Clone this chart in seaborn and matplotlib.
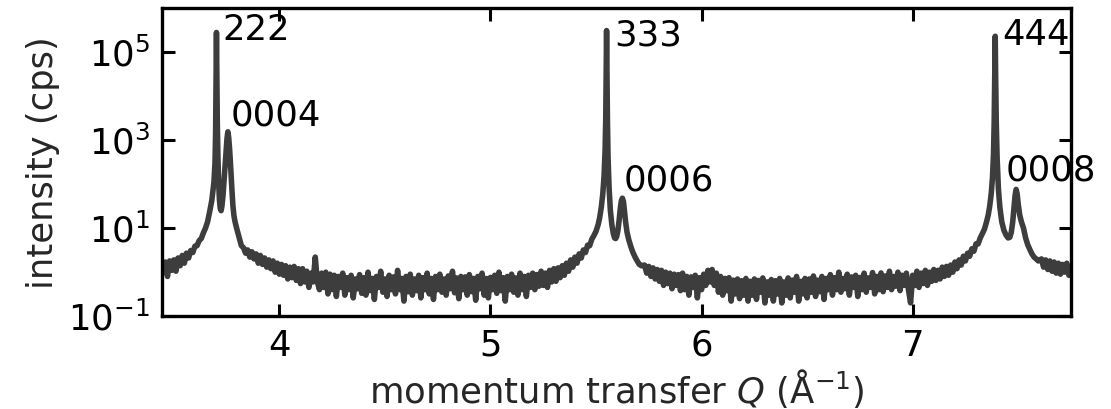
import numpy as np
import pandas as pd
import matplotlib
matplotlib.use("Agg")
import matplotlib.pyplot as plt
import matplotlib.ticker as mticker
import seaborn as sns

# ---------------- data ----------------
# background scan segments: start Q, step 0.01 1/Å, intensities in cps
SCAN_STEP = 0.01

bg_a_start = 3.45
bg_a_cps = [1.0, 1.7, 0.8, 1.8, 1.1, 1.9, 1.05, 2.1, 1.4, 2.4, 1.6, 2.7, 2.1, 3.1,
            2.8, 3.9, 4.0, 5.2, 5.8, 7.8, 10, 14]

bg_b_start = 3.83
bg_b_cps = [3.6, 2.7, 3.2, 2.2, 2.9, 2.0, 2.6, 1.6, 2.4, 1.5,
            2.1, 1.3, 1.9, 1.2, 1.8, 1.0, 1.6, 0.9, 1.5, 0.85,
            1.4, 0.7, 1.3, 0.75, 1.35, 0.65, 1.2, 0.55, 1.2, 0.6,
            1.05, 0.45, 0.95, 0.6, 2.2, 0.6, 0.4, 0.95, 0.45, 1.0,
            0.32, 0.9, 0.4, 0.85, 0.28, 0.8, 0.45, 0.95, 0.3, 0.75,
            0.4, 0.85, 0.26, 0.7, 0.42, 0.88, 0.33, 0.75, 0.3, 1.0,
            0.38, 0.72, 0.24, 0.8, 0.45, 1.05, 0.35, 0.7, 0.28, 0.85,
            0.4, 0.78, 0.32, 1.1, 0.4, 0.72, 0.22, 0.8, 0.36, 0.9,
            0.3, 0.7, 0.38, 0.85, 0.26, 0.75, 0.4, 0.95, 0.32, 0.72,
            0.24, 0.8, 0.4, 0.9, 0.35, 0.7, 0.3, 0.82, 0.42, 1.05,
            0.34, 0.74, 0.25, 0.8, 0.4, 0.78, 0.3, 0.88, 0.36, 0.72,
            0.23, 0.8, 0.42, 0.95, 0.3, 0.72, 0.26, 0.76, 0.4, 0.85,
            0.33, 1.0, 0.38, 0.75, 0.22, 0.8, 0.4, 0.9, 0.35, 0.74,
            0.3, 0.95, 0.4, 0.8, 0.28, 0.85, 0.45, 0.95, 0.4, 0.88,
            0.48, 1.05, 0.5, 0.95, 0.45, 1.1, 0.6, 1.2, 0.62, 1.25,
            0.75, 1.4, 0.85, 1.6, 1.05, 1.9, 1.3, 2.2, 1.6, 2.6,
            2.1, 3.2, 2.8, 4.1, 4.0, 5.6, 6.8]

bg_c_start = 5.73
bg_c_cps = [1.45, 0.95, 1.35, 0.8, 1.25, 0.7, 1.15, 0.62, 1.1, 0.5,
            1.0, 0.55, 0.95, 0.42, 0.9, 0.5, 0.88, 0.38, 0.95, 0.4,
            0.8, 0.3, 0.78, 0.45, 0.85, 0.26, 0.75, 0.4, 0.9, 0.5,
            1.1, 0.6, 1.15, 0.5, 0.95, 0.35, 0.8, 0.3, 0.72, 0.38,
            0.75, 0.22, 0.66, 0.32, 0.7, 0.25, 0.64, 0.3, 0.72, 0.22,
            0.62, 0.3, 0.7, 0.24, 0.65, 0.35, 0.74, 0.2, 0.6, 0.3,
            0.68, 0.22, 0.64, 0.32, 0.72, 0.2, 0.6, 0.3, 0.74, 0.26,
            0.66, 0.35, 0.8, 0.22, 0.62, 0.32, 0.72, 0.26, 0.7, 0.35,
            0.82, 0.28, 0.66, 0.36, 0.8, 0.24, 0.72, 0.4, 0.88, 0.3,
            0.75, 0.4, 1.0, 0.35, 0.72, 0.42, 0.9, 0.3, 0.78, 0.45,
            0.85, 0.28, 0.76, 0.4, 0.95, 0.35, 0.74, 0.45, 0.98, 0.32,
            0.8, 0.4, 0.96, 0.36, 0.82, 0.45, 1.05, 0.4, 0.8, 0.48,
            1.0, 0.38, 0.85, 0.5, 0.95, 0.4, 0.2, 0.85, 0.5, 1.05,
            0.45, 0.95, 0.55, 1.1, 0.5, 1.0, 0.62, 1.15, 0.65, 1.1,
            0.7, 1.3, 0.8, 1.35, 0.85, 1.45, 1.0, 1.7, 1.2, 1.9,
            1.45, 2.3, 1.8, 2.7, 2.3, 3.4, 3.0, 4.4, 4.4, 6.0,
            7.5]

bg_d_start = 7.61
bg_d_cps = [2.0, 1.3, 1.9, 1.15, 1.8, 1.05, 1.7, 0.95, 1.6, 0.9, 1.5, 1.0, 1.6, 0.85, 1.35]

# finely sampled peak regions
peak_a_q = [3.67, 3.68, 3.69, 3.695, 3.698, 3.700, 3.702, 3.704, 3.706, 3.709, 3.712,
            3.716, 3.720, 3.724, 3.728, 3.733, 3.738, 3.743, 3.748, 3.752, 3.756,
            3.760, 3.764, 3.768, 3.772, 3.776, 3.780, 3.785, 3.79, 3.80, 3.81, 3.82]
peak_a_cps = [24, 43, 110, 300, 1500, 25000, 280000, 25000, 2500, 400, 120,
              45, 28, 25, 32, 55, 120, 260, 600, 1100, 1550,
              1150, 650, 320, 140, 65, 32, 19, 14, 9, 6.0, 4.0]

peak_b_q = [5.50, 5.51, 5.517, 5.525, 5.532, 5.538, 5.543, 5.546, 5.548, 5.550, 5.552,
            5.554, 5.557, 5.562, 5.568, 5.575, 5.582, 5.588, 5.593, 5.598, 5.604,
            5.610, 5.615, 5.620, 5.625, 5.630, 5.635, 5.640, 5.647, 5.655, 5.665,
            5.675, 5.685, 5.695, 5.705, 5.715]
peak_b_cps = [8.5, 12, 17, 30, 60, 150, 600, 3000, 30000, 310000, 30000,
              3000, 400, 80, 25, 12, 7.5, 6.0, 5.8, 6.5, 9,
              16, 28, 42, 48, 40, 24, 14, 8, 5.5, 3.8,
              2.8, 2.2, 1.8, 1.5, 1.4]

peak_c_q = [7.34, 7.35, 7.358, 7.365, 7.372, 7.378, 7.383, 7.386, 7.389, 7.391, 7.393,
            7.396, 7.400, 7.406, 7.413, 7.422, 7.432, 7.442, 7.452, 7.460, 7.467,
            7.474, 7.480, 7.485, 7.490, 7.495, 7.500, 7.507, 7.515, 7.525, 7.535,
            7.545, 7.556, 7.565, 7.575, 7.585, 7.595]
peak_c_cps = [9.5, 14, 20, 32, 60, 140, 500, 2500, 30000, 230000, 30000,
              2500, 400, 80, 30, 14, 9, 7, 6, 6.2, 8,
              14, 30, 55, 76, 60, 35, 20, 14, 10, 6,
              4.2, 3.2, 2.6, 2.2, 2.0, 1.8]

# peak labels and where they sit (Q, cps)
peak_labels = ["222", "0004", "333", "0006", "444", "0008"]
label_q = [3.732, 3.770, 5.585, 5.632, 7.424, 7.441]
label_cps = [3.2e5, 3.6e3, 2.4e5, 1.2e2, 2.5e5, 2.0e2]

# ---------------- assemble the scan ----------------
def scan(start, vals):
    q = np.round(start + SCAN_STEP * np.arange(len(vals)), 4)
    return list(q), list(vals)

qs, ys = [], []
for start, vals in [(bg_a_start, bg_a_cps), (bg_b_start, bg_b_cps),
                    (bg_c_start, bg_c_cps), (bg_d_start, bg_d_cps)]:
    q, v = scan(start, vals)
    qs += q
    ys += v
for q, v in [(peak_a_q, peak_a_cps), (peak_b_q, peak_b_cps), (peak_c_q, peak_c_cps)]:
    qs += list(q)
    ys += list(v)

df = pd.DataFrame({"Q": qs, "I": ys}).sort_values("Q").drop_duplicates("Q").reset_index(drop=True)

# ---------------- plot ----------------
sns.set_style("ticks")
plt.rcParams["font.family"] = ["DejaVu Sans"]
plt.rcParams["mathtext.fontset"] = "dejavusans"
FS = 25.5

fig = plt.figure(figsize=(11.11, 4.09), dpi=100)
ax = fig.add_axes([0.146, 0.227, 0.818, 0.753])

sns.lineplot(data=df, x="Q", y="I", ax=ax, color="#3d3d3d", linewidth=4.0,
             estimator=None, sort=True)

ax.set_yscale("log")
ax.set_xlim(3.445, 7.75)
ax.set_ylim(1e-1, 1e6)
ax.set_xticks([4, 5, 6, 7])
ax.set_yticks([1e-1, 1e1, 1e3, 1e5])
ax.yaxis.set_minor_locator(mticker.NullLocator())
ax.xaxis.set_minor_locator(mticker.NullLocator())
ax.tick_params(direction="in", top=True, right=True, length=9, width=2.2,
               labelsize=FS, pad=9, colors="black")

for s in ax.spines.values():
    s.set_linewidth(2.4)
    s.set_color("black")

ax.set_xlabel(r"momentum transfer $Q$ (Å$^{-1}$)", fontsize=FS, labelpad=3)
ax.set_ylabel("intensity (cps)", fontsize=FS, labelpad=6)

for txt, q, c in zip(peak_labels, label_q, label_cps):
    ax.text(q, c, txt, fontsize=FS, ha="left", va="center", color="black")

fig.savefig("out.png", dpi=100)
